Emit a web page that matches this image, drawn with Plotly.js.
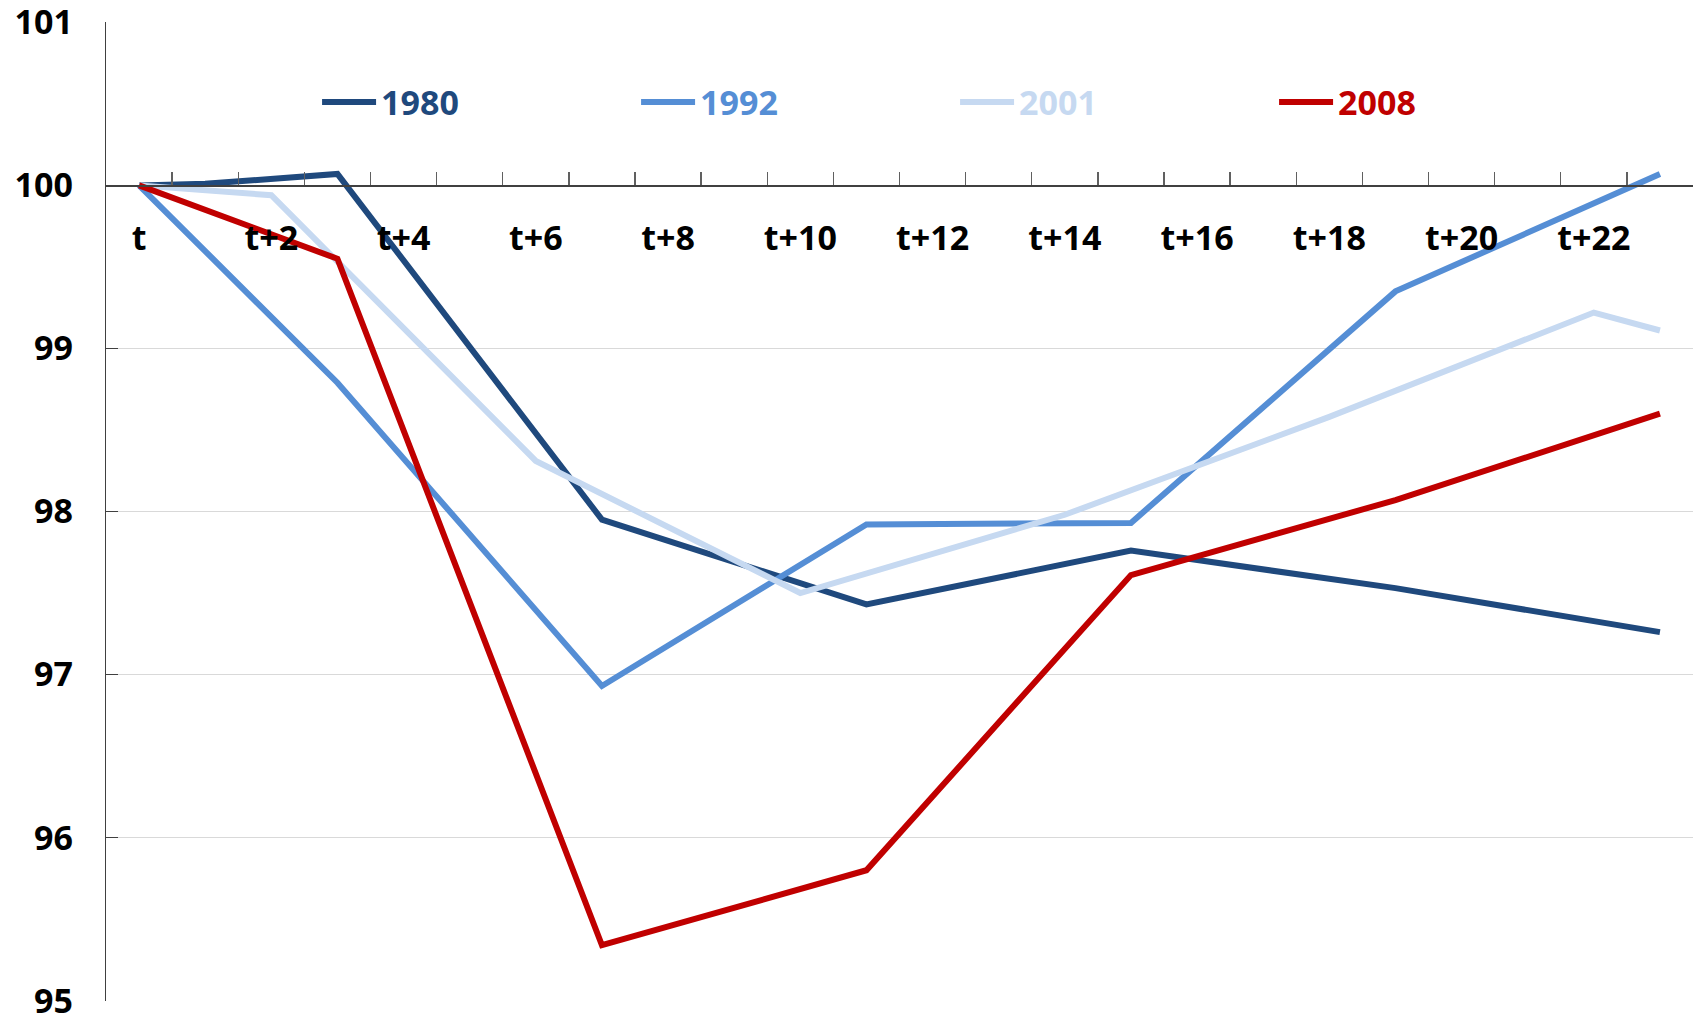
<!DOCTYPE html>
<html>
<head>
<meta charset="utf-8">
<script src="https://cdn.plot.ly/plotly-3.0.1.min.js"></script>
<style>
  html, body { margin: 0; padding: 0; background: #ffffff; }
  #chart { width: 1698px; height: 1017px; }
</style>
</head>
<body>
<div id="chart"></div>
<script>
// Periods on the x axis
const periods = ['t','t+1','t+2','t+3','t+4','t+5','t+6','t+7','t+8','t+9','t+10','t+11',
                 't+12','t+13','t+14','t+15','t+16','t+17','t+18','t+19','t+20','t+21','t+22','t+23'];
// Tick labels shown on the x axis (every second period)
const xTickLabels = ['t','','t+2','','t+4','','t+6','','t+8','','t+10','',
                     't+12','','t+14','','t+16','','t+18','','t+20','','t+22',''];

// Series values (index = 100 at t); null = no observation at that period
const s1980 = [100, 100.01, null, 100.07, null, null, null, 97.95, null, null, null, 97.43,
               null, null, null, 97.76, null, null, null, 97.53, null, null, null, 97.26];
const s1992 = [100, null, null, 98.79, null, null, null, 96.93, null, null, null, 97.92,
               null, null, null, 97.93, null, null, null, 99.35, null, null, null, 100.07];
const s2001 = [100, null, 99.94, null, null, null, 98.31, null, null, null, 97.50, null,
               null, null, 97.98, null, null, null, 98.58, null, null, null, 99.22, 99.11];
const s2008 = [100, null, null, 99.55, null, null, null, 95.34, null, null, null, 95.80,
               null, null, null, 97.61, null, null, null, 98.07, null, null, null, 98.60];

const seriesNames = ['1980', '1992', '2001', '2008'];
const seriesValues = [s1980, s1992, s2001, s2008];
const seriesColors = ['#1F497D', '#558ED5', '#C6D9F1', '#C00000'];

const traces = seriesNames.map((name, i) => ({
  type: 'scatter',
  mode: 'lines',
  x: periods,
  y: seriesValues[i],
  connectgaps: true,
  name: '<span style="color:' + seriesColors[i] + '">' + name + '</span>',
  line: { color: seriesColors[i], width: 6 },
  hoverinfo: 'x+y'
}));

const fontFamily = '"Open Sans", "Noto Sans", sans-serif';
const fontSize = 34;

const layout = {
  width: 1698,
  height: 1017,
  paper_bgcolor: '#ffffff',
  plot_bgcolor: '#ffffff',
  margin: { l: 106, r: 5, t: 22, b: 16 },
  font: { family: fontFamily, size: fontSize, color: '#000000', weight: 'bold' },
  showlegend: true,
  legend: {
    orientation: 'h',
    x: 0.133,
    xanchor: 'left',
    y: 0.918,
    yanchor: 'middle',
    itemwidth: 54,
    entrywidth: 250,
    entrywidthmode: 'pixels',
    bgcolor: 'rgba(0,0,0,0)',
    font: { family: fontFamily, size: fontSize, weight: 'bold' },
    traceorder: 'normal'
  },
  xaxis: {
    type: 'category',
    categoryorder: 'array',
    categoryarray: periods,
    range: [-0.5, 23.5],
    anchor: 'free',
    position: (100 - 94.998) / (101.002 - 94.998),
    side: 'bottom',
    showline: true,
    linecolor: '#404040',
    linewidth: 1.5,
    showgrid: false,
    zeroline: false,
    tickmode: 'array',
    tickvals: periods,
    ticktext: xTickLabels,
    tickangle: 0,
    tickson: 'boundaries',
    ticks: 'inside',
    ticklen: 13,
    tickcolor: '#606060',
    tickwidth: 1.3,
    ticklabelstandoff: 22,
    tickfont: { family: fontFamily, size: fontSize, weight: 'bold', color: '#000000' },
    fixedrange: true
  },
  yaxis: {
    range: [94.998, 101.002],
    tickmode: 'linear',
    dtick: 1,
    tick0: 95,
    showline: true,
    linecolor: '#404040',
    linewidth: 1.3,
    showgrid: true,
    gridcolor: '#d9d9d9',
    gridwidth: 1.5,
    zeroline: false,
    ticks: 'inside',
    ticklen: 12,
    tickcolor: '#404040',
    tickwidth: 1.3,
    ticklabelstandoff: 25,
    ticklabeloverflow: 'allow',
    tickfont: { family: fontFamily, size: fontSize, weight: 'bold', color: '#000000' },
    fixedrange: true
  }
};

Plotly.newPlot('chart', traces, layout, { displayModeBar: false, staticPlot: true });
</script>
</body>
</html>
